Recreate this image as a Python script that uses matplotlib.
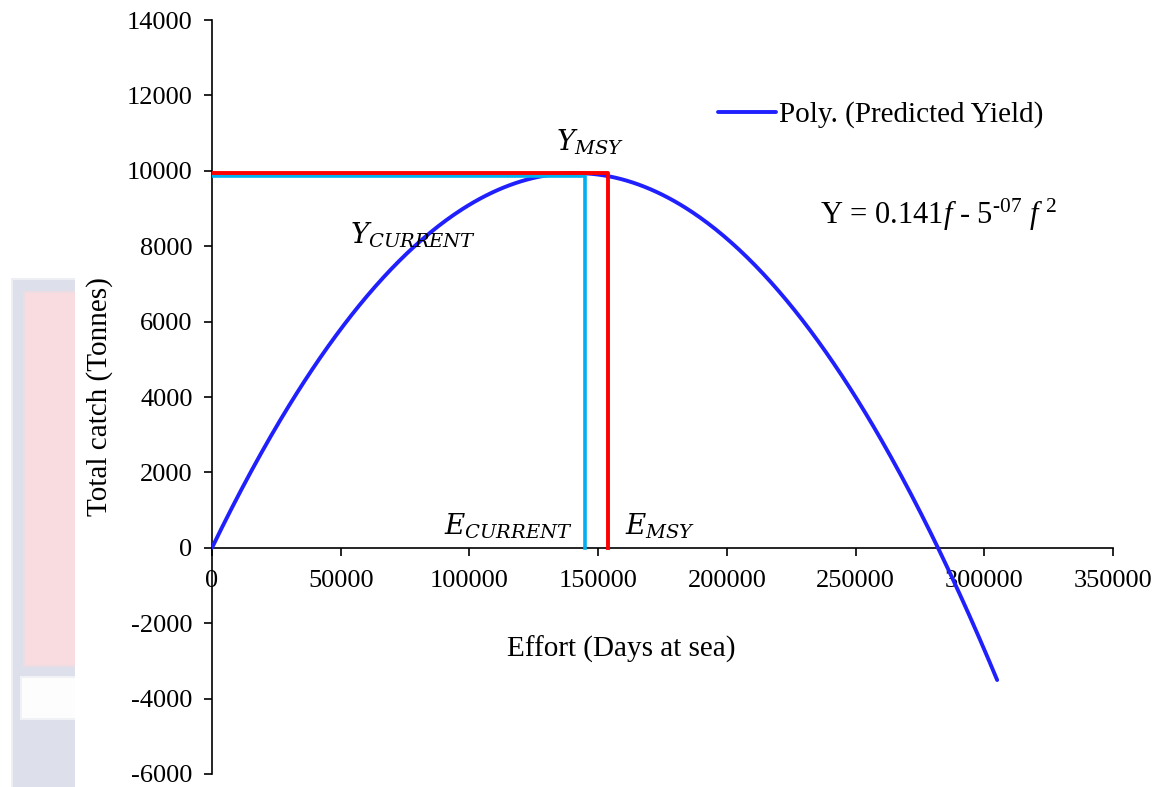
import matplotlib.pyplot as plt
import matplotlib.patches as mpatches
import numpy as np

plt.rcParams['font.family'] = ['Liberation Serif', 'DejaVu Serif']
plt.rcParams['mathtext.fontset'] = 'custom'
plt.rcParams['mathtext.rm'] = 'Liberation Serif'
plt.rcParams['mathtext.it'] = 'Liberation Serif:italic'
plt.rcParams['axes.unicode_minus'] = False

# yield curve Y = a*f - b*f^2 (trendline coefficients)
coef_a = 0.141
coef_b = 5e-07
effort_start = 0
effort_end = 305000

# reference points
e_msy = 153800
y_msy = 9950
e_current = 145000
y_current = 9850

x_ticks = [0, 50000, 100000, 150000, 200000, 250000, 300000, 350000]
y_ticks = [-6000, -4000, -2000, 0, 2000, 4000, 6000, 8000, 10000, 12000, 14000]

W, H = 1168, 787
fig = plt.figure(figsize=(W / 100, H / 100), dpi=100)

# faint background block on the left side of the page
def px_rect(x0, y0, x1, y1, color, alpha=1.0):
    fig.patches.append(mpatches.Rectangle((x0 / W, 1 - y1 / H), (x1 - x0) / W, (y1 - y0) / H,
                                          transform=fig.transFigure, color=color, alpha=alpha,
                                          zorder=0, lw=0))

px_rect(11, 278, 75, 787, '#dde0ea', 0.5)
px_rect(13, 280, 75, 787, '#dde0ea')
px_rect(23, 291, 75, 667, '#f8dcdf', 0.6)
px_rect(25, 293, 75, 665, '#f8dcdf')
px_rect(20, 676, 75, 720, '#fdfdfe', 0.6)
px_rect(22, 678, 75, 718, '#fdfdfe')

ax = fig.add_axes([212 / W, 1 - 774 / H, (1113 - 212) / W, (774 - 20) / H])
ax.set_facecolor('none')

f = np.linspace(effort_start, effort_end, 400)
yld = np.polyval([-coef_b, coef_a, 0], f)
ax.plot(f, yld, color='#2020ff', lw=2.8, label='Poly. (Predicted Yield)', zorder=3,
        solid_capstyle='round')

ax.plot([0, e_current, e_current], [y_current, y_current, 0], color='#00b0f0', lw=2.6, zorder=4)
ax.plot([0, e_msy, e_msy], [y_msy, y_msy, 0], color='#ff0000', lw=2.8, zorder=5)

ax.set_xlim(0, 350000)
ax.set_ylim(-6000, 14000)
ax.set_xticks(x_ticks)
ax.set_yticks(y_ticks)
ax.spines['top'].set_visible(False)
ax.spines['right'].set_visible(False)
ax.spines['bottom'].set_position(('data', 0))
for s in ['left', 'bottom']:
    ax.spines[s].set_linewidth(1.2)
ax.tick_params(axis='both', direction='out', length=6, width=1.2, labelsize=19)
ax.tick_params(axis='x', pad=10)
ax.tick_params(axis='y', pad=8)

ann = dict(fontsize=20, ha='center', va='center', math_fontfamily='dejavuserif')
ax.text(146700, 10750, r'$Y_{MSY}$', **ann)
ax.text(78000, 8300, r'$Y_{CURRENT}$', **ann)
ax.text(114900, 560, r'$E_{CURRENT}$', **ann)
ax.text(173900, 560, r'$E_{MSY}$', **ann)

ax.text(236000, 8830, r'Y = 0.141$f$ - 5$^{\text{-07}}$ $f^{\,\,2}$', fontsize=22, ha='left', va='center')

ax.text(158800, -2700, 'Effort (Days at sea)', fontsize=21, ha='center', va='center')
fig.text(100 / W, 1 - 397 / H, 'Total catch (Tonnes)', fontsize=21, rotation=90, ha='center', va='center')

ax.legend(loc='center left', bbox_to_anchor=(718 / W, 1 - 115 / H), bbox_transform=fig.transFigure,
          frameon=False, fontsize=21, handlelength=2.0, handletextpad=0.1, borderpad=0, borderaxespad=0)

fig.savefig('out.png', dpi=100)
